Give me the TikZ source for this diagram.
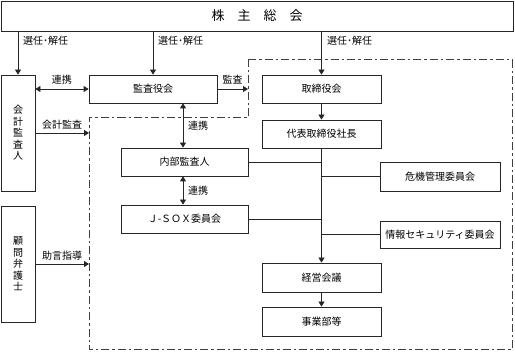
\documentclass[tikz,border=0pt]{standalone}
\usepackage{fontspec}
\setmainfont{Noto Sans CJK JP}
\usetikzlibrary{arrows.meta,calc}
\begin{document}
\begin{tikzpicture}[x=1pt,y=-1pt,
  box/.style={draw=black!85, line width=0.8pt, inner sep=0pt, font=\fontsize{10}{11.5}\selectfont, align=center},
  lbl/.style={inner sep=0pt, font=\fontsize{10}{12}\selectfont},
  conn/.style={draw=black!85, line width=0.8pt},
  arr/.style={conn, -{Triangle[length=5pt,width=6pt]}},
  dbl/.style={conn, {Triangle[length=5pt,width=6pt]}-{Triangle[length=5pt,width=6pt]}},
  region/.style={draw=black!75, line width=1pt, dash pattern=on 8pt off 3pt on 2.5pt off 3pt}]
\useasboundingbox (0,0) rectangle (515,352);
% region corners
\coordinate (rgA) at (248,60);
\coordinate (rgB) at (512,60);
\coordinate (rgC) at (512,350);
\coordinate (rgD) at (89,350);
\coordinate (rgE) at (89,118);
\coordinate (rgF) at (248,118);
\coordinate (ax) at (183,0);
\draw[region] (rgA) -- (rgB) -- (rgC) -- (rgD) -- (rgE) -- (rgF) -- cycle;
% boxes
\node[box, minimum width=512pt, minimum height=30pt, font=\fontsize{13}{13}\selectfont] (sh) at (257,16) {株　主　総　会};
\node[box, minimum width=34pt, minimum height=116pt] (kaikei) at (18,133) {会\\計\\監\\査\\人};
\node[box, minimum width=34pt, minimum height=116pt] (komon) at (18,264) {顧\\問\\弁\\護\\士};
\node[box, minimum width=128pt, minimum height=28pt] (kansa) at (153,89) {監査役会};
\node[box, minimum width=127pt, minimum height=28pt] (naibu) at (184.5,162) {内部監査人};
\node[box, minimum width=127pt, minimum height=28pt] (jsox) at (184.5,219) {Ｊ-ＳＯＸ委員会};
\node[box, minimum width=119pt, minimum height=28pt] (tori) at (321.5,89) {取締役会};
\node[box, minimum width=119pt, minimum height=28pt] (daihyo) at (321.5,134) {代表取締役社長};
\node[box, minimum width=120pt, minimum height=29pt] (kiki) at (440,176.5) {危機管理委員会};
\node[box, minimum width=120pt, minimum height=27pt] (joho) at (440,234.5) {情報セキュリティ委員会};
\node[box, minimum width=119pt, minimum height=29pt] (keiei) at (321.5,277.5) {経営会議};
\node[box, minimum width=119pt, minimum height=29pt] (jigyo) at (321.5,321.5) {事業部等};
% connectors
\draw[arr] (sh.south -| kaikei) -- (kaikei.north);
\draw[arr] (sh.south -| kansa) -- (kansa.north);
\draw[arr] (sh.south -| tori) -- (tori.north);
\draw[dbl] (kaikei.east |- kansa) -- (kansa.west);
\draw[arr] (kansa.east) -- (kansa.east -| rgA);
\draw[arr] (kaikei.east) -- (kaikei.east -| rgE);
\draw[arr] (komon.east) -- (komon.east -| rgE);
\draw[dbl] (kansa.south -| ax) -- (naibu.north -| ax);
\draw[dbl] (naibu.south -| ax) -- (jsox.north -| ax);
\draw[arr] (tori) -- (daihyo);
\draw[arr] (daihyo) -- (keiei);
\draw[arr] (keiei) -- (jigyo);
\draw[conn] (naibu.east) -- (naibu.east -| daihyo);
\draw[conn] (jsox.east) -- (jsox.east -| daihyo);
\draw[conn] (kiki.west) -- (kiki.west -| daihyo);
\draw[conn] (joho.west) -- (joho.west -| daihyo);
% labels
\node[lbl, anchor=west] (l1) at (23,41) {選任･解任};
\node[lbl, anchor=west] (l2) at (158,41) {選任･解任};
\node[lbl, anchor=west] (l3) at (327,41) {選任･解任};
\node[lbl] (l4) at (62,80) {連携};
\node[lbl] (l5) at (232.5,80) {監査};
\node[lbl] (l6) at (62,125) {会計監査};
\node[lbl, anchor=west] (l7) at (188,126) {連携};
\node[lbl, anchor=west] (l8) at (188,191) {連携};
\node[lbl] (l9) at (62,256) {助言指導};
\end{tikzpicture}
\end{document}
